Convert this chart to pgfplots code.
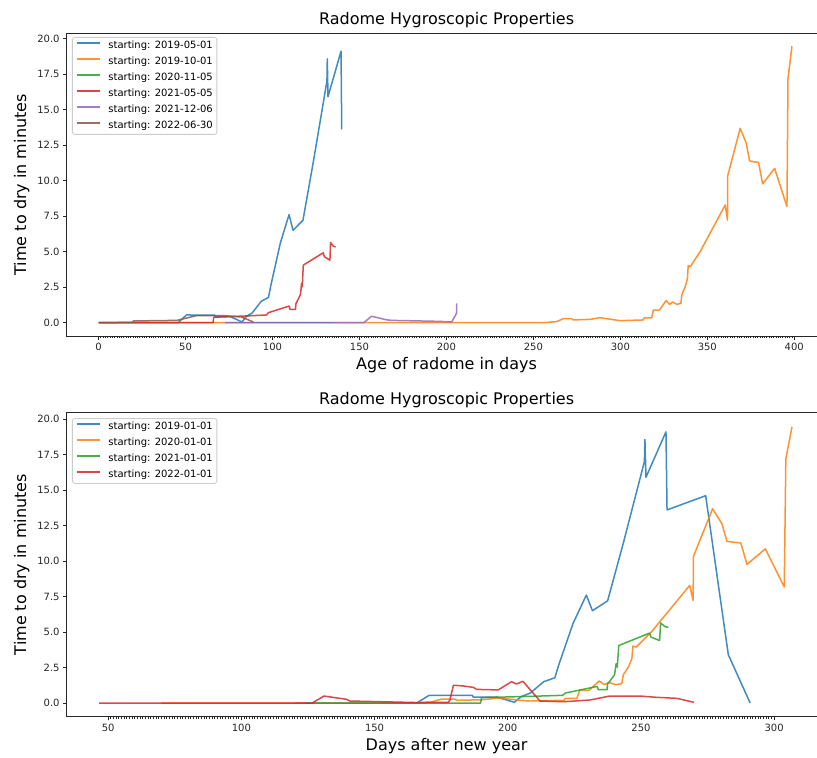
\documentclass[border=0pt]{standalone}
\usepackage{fontspec}
\setmainfont{DejaVu Sans}
\usepackage{pgfplots}
\pgfplotsset{compat=1.18}

\definecolor{c0}{HTML}{1F77B4}
\definecolor{c1}{HTML}{FF7F0E}
\definecolor{c2}{HTML}{2CA02C}
\definecolor{c3}{HTML}{D62728}
\definecolor{c4}{HTML}{9467BD}
\definecolor{c5}{HTML}{8C564B}
\definecolor{spine}{gray}{0.15}
\definecolor{ticktext}{gray}{0.15}

\tikzset{lbl/.style={font=\fontsize{16}{19}\selectfont, inner sep=0pt, anchor=base}}

\pgfplotsset{
  radome/.style={
    scale only axis,
    width=760pt,
    axis line style={draw=spine, line width=0.8pt},
    tick style={draw=spine, line width=0.8pt},
    tick align=outside,
    xtick pos=bottom,
    ytick pos=left,
    major tick length=3.5pt,
    minor tick length=2pt,
    ytick={0,2.5,5,7.5,10,12.5,15,17.5,20},
    yticklabel style={/pgf/number format/.cd, fixed, fixed zerofill, precision=1},
    /pgf/number format/assume math mode=true,
    tick label style={font=\fontsize{10}{12}\selectfont, text=ticktext},
    legend cell align=left,
    legend style={anchor=north west, draw=black!20, line width=0.8pt,
      rounded corners=2.5pt, fill=white, fill opacity=0.8, text opacity=1,
      draw opacity=1, font=\fontsize{10}{12}\selectfont,
      inner xsep=4pt, inner ysep=3pt, row sep=5pt,
      nodes={inner sep=0pt, text height=8pt, text depth=3pt}},
    legend image code/.code={\draw[#1] (0pt,3pt) -- (23pt,3pt); \path (30.5pt,3pt);},
    every axis plot/.append style={line width=1.5pt, opacity=0.85, line join=round, mark=none},
  },
}

\begin{document}
\begin{tikzpicture}[x=1pt, y=1pt]
\coordinate (topSW) at (66.6pt,421.7pt);
\coordinate (botSW) at (66.6pt,41.15pt);

% ---------- age of radome ----------
\begin{axis}[radome,
  at={(topSW)}, anchor=south west,
  height=303.1pt,
  xmin=-18.4, xmax=418.6,
  ymin=-0.96, ymax=20.37,
  xtick={0,50,100,150,200,250,300,350,400},
  minor x tick num=37,
  legend style={at={(0.0071,0.9875)}},
]
\addplot[c0] coordinates {(0,0) (45.8,0) (50.5,0.54) (66.8,0.53) (67,0.42) (75.8,0.42)
  (82.5,0.05) (85,0.45) (88.3,0.68) (93.5,1.5) (97.7,1.78) (99,2.6) (104.5,5.6)
  (109.5,7.6) (111.8,6.5) (117.5,7.2) (123.3,11.2) (131.3,17.0) (131.5,18.56)
  (131.9,15.9) (139.4,19.1) (139.8,13.6)};
\addlegendentry{starting: 2019-05-01}
\addplot[c1] coordinates {(0,0) (255.7,0) (263.3,0.07) (267.2,0.28) (272,0.28)
  (273,0.19) (282.5,0.23) (288.3,0.35) (299.8,0.14) (313.2,0.19) (313.6,0.33)
  (318,0.33) (319,0.89) (322.5,0.89) (326.3,1.55) (328.3,1.29) (330,1.45)
  (332.5,1.29) (334.8,1.36) (335.4,1.99) (337.3,2.53) (338.6,3.12) (339,4.01)
  (340.2,3.94) (345.9,5.0) (360.3,8.28) (361.6,7.22) (361.7,10.32) (368.9,13.68)
  (372.4,12.63) (374.3,11.38) (379.5,11.27) (381.8,9.76) (388.7,10.86)
  (395.8,8.17) (396.4,17.2) (398.7,19.45)};
\addlegendentry{starting: 2019-10-01}
\addplot[c2] coordinates {(75,0) (135,0)};
\addlegendentry{starting: 2020-11-05}
\addplot[c3] coordinates {(0,0) (65.8,0) (66.2,0.38) (84.6,0.47) (96.6,0.54)
  (97.6,0.7) (109.6,1.17) (110,0.94) (113.3,0.94) (113.4,1.31) (116.1,1.99)
  (116.7,2.77) (117.1,2.53) (117.7,4.05) (129.2,4.92) (129.8,4.64) (133,4.4)
  (133.4,5.64) (135,5.38) (136.3,5.33)};
\addlegendentry{starting: 2021-05-05}
\addplot[c4] coordinates {(72.6,0) (152.5,0) (156.9,0.45) (165.6,0.2) (168.5,0.16)
  (196.3,0.09) (203,0.05) (205,0.47) (205.9,0.7) (205.9,1.36)};
\addlegendentry{starting: 2021-12-06}
\addplot[c5] coordinates {(0.4,0) (19.5,0.02) (20,0.12) (45,0.16) (56.5,0.5)
  (71,0.5) (82,0.4) (89,0.05)};
\addlegendentry{starting: 2022-06-30}
\end{axis}
\node[lbl] at (446.6pt,733pt) {Radome Hygroscopic Properties};
\node[lbl] at (446.6pt,388pt) {Age of radome in days};
\node[lbl, rotate=90] at (26pt,573.2pt) {Time to dry in minutes};

% ---------- days after new year ----------
\begin{axis}[radome,
  at={(botSW)}, anchor=south west,
  height=304.2pt,
  xmin=34.4, xmax=319.7,
  ymin=-0.975, ymax=20.45,
  xtick={50,100,150,200,250,300},
  minor x tick num=49,
  legend style={at={(0.0071,0.9824)}},
]
\addplot[c0] coordinates {(120,0) (165.8,0) (170.5,0.54) (186.8,0.53) (187,0.42)
  (195.8,0.42) (202.5,0.05) (205,0.45) (208.3,0.68) (213.5,1.5) (217.7,1.78)
  (219,2.6) (224.5,5.6) (229.5,7.6) (231.8,6.5) (237.5,7.2) (243.3,11.2)
  (251.3,17.0) (251.5,18.56) (251.9,15.9) (259.4,19.1) (259.8,13.6) (274.3,14.6)
  (282.8,3.4) (291,0)};
\addlegendentry{starting: 2019-01-01}
\addplot[c1] coordinates {(70,0) (163.7,0) (171.3,0.07) (175.2,0.28) (180,0.28)
  (181,0.19) (190.5,0.23) (196.3,0.35) (207.8,0.14) (221.2,0.19) (221.6,0.33)
  (226,0.33) (227,0.89) (230.5,0.89) (234.3,1.55) (236.3,1.29) (238,1.45)
  (240.5,1.29) (242.8,1.36) (243.4,1.99) (245.3,2.53) (246.6,3.12) (247,4.01)
  (248.2,3.94) (253.9,5.0) (268.3,8.28) (269.6,7.22) (269.7,10.32) (276.9,13.68)
  (280.4,12.63) (282.3,11.38) (287.5,11.27) (289.8,9.76) (296.7,10.86)
  (303.8,8.17) (304.4,17.2) (306.7,19.45)};
\addlegendentry{starting: 2020-01-01}
\addplot[c2] coordinates {(124,0) (189.8,0) (190.2,0.38) (208.6,0.47) (220.6,0.54)
  (221.6,0.7) (233.6,1.17) (234,0.94) (237.3,0.94) (237.4,1.31) (240.1,1.99)
  (240.7,2.77) (241.1,2.53) (241.7,4.05) (253.2,4.92) (253.8,4.64) (257,4.4)
  (257.4,5.64) (259,5.38) (260.3,5.33)};
\addlegendentry{starting: 2021-01-01}
\addplot[c3] coordinates {(46.6,0) (126.6,0) (131,0.49) (139.5,0.26) (140.7,0.14)
  (157,0.07) (166,0.03) (177.7,0.05) (178.3,0.21) (179.6,1.25) (183.3,1.2)
  (187.1,1.1) (188.3,0.96) (196.4,0.92) (201.4,1.5) (203.3,1.34) (205.7,1.53)
  (212.1,0.14) (220.9,0.09) (230.8,0.21) (238.3,0.49) (249.6,0.49) (255.9,0.4)
  (263.4,0.33) (269.9,0.05)};
\addlegendentry{starting: 2022-01-01}
\end{axis}
\node[lbl] at (446.6pt,353pt) {Radome Hygroscopic Properties};
\node[lbl] at (446.6pt,7pt) {Days after new year};
\node[lbl, rotate=90] at (26pt,193.3pt) {Time to dry in minutes};

% page frame: the axes run on past the right edge
\pgfresetboundingbox
\path[use as bounding box] (0pt,0pt) rectangle (817pt,758pt);
\end{tikzpicture}
\end{document}
